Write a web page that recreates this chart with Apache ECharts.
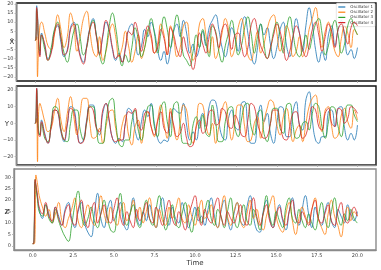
<!DOCTYPE html>
<html><head><meta charset="utf-8">
<script src="https://cdn.jsdelivr.net/npm/echarts@6/dist/echarts.min.js"></script>
<style>html,body{margin:0;padding:0;background:#fff}#c{width:381px;height:270px}</style>
</head><body><div id="c"></div>
<script>
const times=[0,0.05,0.1,0.15,0.2,0.3,
0.4,0.6,0.8,1.0,1.2,1.4,1.6,1.8,2.0,2.2,
2.4,2.6,2.8,3.0,3.2,3.4,3.6,3.8,4.0,4.2,
4.4,4.6,4.8,5.0,5.2,5.4,5.6,5.8,6.0,6.2,
6.4,6.6,6.8,7.0,7.2,7.4,7.6,7.8,8.0,8.2,
8.4,8.6,8.8,9.0,9.2,9.4,9.6,9.8,10.0,10.2,
10.4,10.6,10.8,11.0,11.2,11.4,11.6,11.8,12.0,12.2,
12.4,12.6,12.8,13.0,13.2,13.4,13.6,13.8,14.0,14.2,
14.4,14.6,14.8,15.0,15.2,15.4,15.6,15.8,16.0,16.2,
16.4,16.6,16.8,17.0,17.2,17.4,17.6,17.8,18.0,18.2,
18.4,18.6,18.8,19.0,19.2,19.4,19.6,19.8,20.0];

const names=['Oscillator 1','Oscillator 2','Oscillator 3','Oscillator 4'];
const colors=['#1f77b4','#ff7f0e','#2ca02c','#d62728'];

// Panel X
const x1=[0,1,19,14,2,-8,
4,-3,-10,-6,5,8,-1,-9,-5,7,
10,2,-8,-12,-3,7,12,3,-7,2,
10,5,-5,-11,-7,-12,-4,6,9,1,
-8,-3,6,2,10,5,-5,-11,-6,-13,
-5,5,9,2,11,4,-7,-2,-9,-4,
5,-3,7,11,14,6,-4,-9,-2,7,
2,-6,8,13,4,-8,-13,-4,9,3,
7,-2,-10,-4,6,10,-3,-9,2,12,
4,-6,8,18,9,-5,-12,-6,-11,3,
8,-3,6,11,2,-8,-5,-10,-4];
const x2=[0,0,2,-20,-8,8,
10,4,-3,-5,3,14,6,-4,2,15,
8,-6,2,12,16,5,-6,-9,2,-11,
-6,4,9,2,-9,-4,5,-3,-12,-6,
3,-10,-4,6,1,-7,-2,9,3,-8,
8,1,-9,-4,8,10,-2,-11,-6,9,
12,3,-7,2,-10,-5,4,12,6,-9,
-4,7,12,3,-8,-11,-3,5,-7,-2,
6,12,14,4,-6,0,8,3,-9,-6,
2,-9,-5,6,12,18,8,-4,5,10,
2,-6,-9,1,8,4,-4,6,3];
const x3=[0,0.5,17,12,2,-6,
3,-5,-11,-4,6,10,2,-7,-12,-4,
5,9,1,-8,-4,6,11,3,-8,-13,
-5,8,15,7,-6,-14,-8,-12,-4,7,
1,-9,-4,5,12,4,-7,4,13,6,
-4,6,14,5,-8,-11,-14,-6,3,-4,
6,-2,-9,8,5,-6,-12,-3,4,11,
2,-8,-3,7,13,4,-7,2,9,-2,
-10,-5,5,10,2,-7,6,13,4,-6,
-9,-4,3,-5,2,9,12,4,-8,-3,
6,11,3,-7,-2,8,12,7,3];
const x4=[0,0.5,18,13,1,-9,
3,-2,-11,-7,4,9,1,-8,-6,6,
9,0,-9,-13,-4,6,10,2,-8,3,
11,6,-4,-10,-8,-12,-5,5,3,10,
4,-6,2,8,3,-7,-4,6,1,-8,
7,3,-5,-9,2,-5,-10,-16,-8,4,
-2,-7,2,9,4,-4,6,9,3,-5,
3,4,-3,-9,-4,8,12,5,-3,-7,
-10,-4,3,9,5,-4,-11,-6,2,8,
4,-5,-9,-3,6,10,3,-6,2,9,
5,-4,6,9,4,-2,7,10,8];

// Panel Y
const y1=[0,2,21,8,-5,-7,
2,-6,-12,-2,8,7,-5,-11,-1,10,
9,-3,-12,-10,2,11,11,-2,-7,6,
12,1,-9,-12,-9,-11,0,9,7,-4,
-10,1,8,4,12,0,-9,-12,-10,-11,
1,9,7,6,12,-1,-10,-5,-10,0,
6,-2,10,14,13,1,-8,-10,3,8,
-2,-4,12,13,-2,-12,-12,2,11,1,
6,-6,-12,0,10,9,-8,-8,7,13,
-1,-4,14,19,2,-10,-12,-8,-8,7,
8,-2,9,10,-3,-10,-6,-10,-1];
const y2=[0,0,3,-23,2,12,
9,1,-5,-3,7,15,2,-5,6,16,
4,-7,6,15,15,0,-9,-8,-3,-12,
-2,7,8,-3,-11,-1,5,-7,-13,-2,
2,-12,0,7,-2,-8,2,11,0,-9,
9,-3,-10,0,11,8,-7,-12,-1,12,
11,-1,-7,0,-12,-2,8,13,1,-10,
0,11,11,-2,-11,-10,0,4,-9,1,
9,14,12,-1,-7,4,9,-1,-11,-4,
-1,-11,0,10,15,17,3,-5,8,10,
-2,-9,-7,5,9,1,-3,8,2];
const y3=[0,1,20,7,-3,-7,
0,-9,-11,0,10,9,-3,-10,-11,0,
8,8,-4,-10,0,10,10,-2,-12,-12,
1,13,15,1,-12,-14,-10,-10,1,8,
-4,-10,0,10,11,-2,-8,9,13,1,
-8,11,13,-1,-12,-12,-13,-1,4,-3,
5,-6,-8,11,1,-11,-11,1,9,10,
-3,-8,2,11,12,-2,-7,6,8,-6,
-11,0,9,9,-3,-6,11,12,-1,-9,
-8,0,1,-4,6,12,10,-2,-9,1,
10,9,-2,-8,3,11,11,5,1];
const y4=[0,1,21,7,-6,-8,
1,-7,-12,-2,8,7,-4,-10,0,9,
7,-5,-12,-11,1,10,8,-3,-5,8,
12,2,-9,-11,-10,-10,0,7,6,9,
-1,-4,6,7,-2,-7,1,7,-3,-6,
7,-1,-8,-6,0,-9,-14,-13,-2,2,
-6,-4,7,8,-1,0,9,7,-2,-3,
5,1,-7,-8,2,12,10,0,-6,-9,
-8,0,8,8,0,-9,-10,-2,6,7,
-1,-9,-7,2,10,8,-2,-4,6,9,
0,-2,9,8,0,3,10,9,6];

// Panel Z
const z1=[1,1,8,28,26,21,
16,12,18,14,10,17,13,9,16,19,
12,8,15,19,10,6,4,14,23,12,
8,16,20,11,15,19,10,7,14,21,
13,9,15,11,18,12,8,16,21,13,
9,17,12,10,19,14,8,12,17,11,
13,9,16,21,13,8,15,20,12,7,
14,19,11,9,17,22,13,7,6,15,
20,12,8,14,18,11,7,15,21,13,
9,16,22,14,8,17,12,9,15,19,
11,8,16,13,10,18,14,11,15];
const z2=[1,1,1,5,31,27,
22,17,13,16,10,14,19,11,8,12,
16,21,11,8,13,18,12,9,15,22,
14,10,17,12,9,15,19,11,14,20,
12,17,10,15,21,13,8,16,11,9,
17,12,16,21,12,10,18,13,9,15,
20,12,14,18,11,8,16,22,13,9,
15,19,11,8,14,20,12,16,10,7,
13,18,22,13,8,6,14,19,11,5,
12,17,13,10,16,21,12,8,5,14,
20,13,9,4,12,17,11,15,13];
const z3=[1,1,10,29,26,20,
15,13,18,12,10,16,11,7,4,2,
9,18,24,14,9,12,17,11,8,14,
20,13,7,6,15,23,13,9,14,18,
11,8,15,20,12,9,16,22,14,7,
12,18,10,8,14,19,11,6,13,17,
10,15,20,12,9,16,13,8,15,21,
12,8,13,18,11,9,16,12,7,14,
22,13,9,15,11,8,17,21,12,10,
16,11,8,14,10,7,13,19,12,8,
15,21,13,9,14,11,16,12,10];
const z4=[1,1,9,29,27,22,
17,14,19,13,11,17,12,9,15,18,
11,9,16,20,12,8,15,19,10,14,
18,12,10,16,21,13,9,15,11,8,
16,11,14,19,12,10,17,13,9,15,
20,12,9,15,11,7,13,18,22,14,
9,16,12,10,17,21,13,9,15,12,
10,14,18,11,9,16,21,13,9,14,
18,11,8,13,17,12,9,15,20,12,
10,15,12,9,16,20,12,10,14,18,
11,9,15,19,12,10,14,17,13];

const xTicks=[0,2.5,5,7.5,10,12.5,15,17.5,20];
const xPanelTicks=[-20,-15,-10,-5,0,5,10,15,20];
const yPanelTicks=[-20,-10,0,10,20];
const zPanelTicks=[0,5,10,15,20,25,30];
const panelLabels=['X','Y','Z'];

const panels=[[x1,x2,x3,x4],[y1,y2,y3,y4],[z1,z2,z3,z4]];
panels.forEach((p,pi)=>p.forEach((a,ci)=>{ if(a.length!==times.length) throw new Error('len panel '+pi+' series '+ci+' = '+a.length+' vs '+times.length); }));

const FONT='DejaVu Sans';
const GRAY='#8a8a8a';
const grids=[
 {left:14,right:5,top:3,height:78,show:true,borderColor:'#111',borderWidth:1.4},
 {left:14,right:5,top:86,height:79,show:true,borderColor:'#111',borderWidth:1.4},
 {left:14,right:5,top:169,height:81,show:true,borderColor:GRAY,borderWidth:1.4}
];
const yRanges=[[-22.3,20.5],[-25,22.4],[-1.75,33.6]];
const yTickSets=[xPanelTicks,yPanelTicks,zPanelTicks];
const fmtNum=v=>String(v).replace('-','\u2212');

const xAxes=[0,1,2].map(i=>({
 gridIndex:i,type:'value',min:-1.15,max:21.15,
 splitLine:{show:false},
 axisLine:{show:i>=1,onZero:false,lineStyle:{color:GRAY,width:1.4}},
 axisTick:{show:true,customValues:xTicks,length:2,lineStyle:{color:'#aaa',width:0.8}},
 axisLabel:{show:i===2,customValues:xTicks,formatter:v=>v.toFixed(1),fontSize:5,color:'#444',margin:3,fontFamily:FONT},
 name:i===2?'Time':'',nameLocation:'middle',nameGap:10,
 nameTextStyle:{fontSize:7,color:'#333',fontFamily:FONT}
}));
const yAxes=[0,1,2].map(i=>({
 gridIndex:i,type:'value',min:yRanges[i][0],max:yRanges[i][1],
 splitLine:{show:false},
 axisLine:{show:true,onZero:false,lineStyle:{color:GRAY,width:1.4}},
 axisTick:{show:true,customValues:yTickSets[i],length:2,lineStyle:{color:'#aaa',width:0.8}},
 axisLabel:{customValues:yTickSets[i],formatter:fmtNum,fontSize:5,color:'#444',margin:3,fontFamily:FONT}
}));

const series=[];
panels.forEach((p,pi)=>p.forEach((arr,ci)=>{
 series.push({
  type:'line',name:names[ci],xAxisIndex:pi,yAxisIndex:pi,
  data:times.map((t,k)=>[t,arr[k]]),
  showSymbol:false,smooth:0.45,
  lineStyle:{width:1,color:colors[ci],opacity:0.8},
  itemStyle:{color:colors[ci]},
  z:2+ci
 });
}));

const chart=echarts.init(document.getElementById('c'),null,{renderer:'canvas'});
chart.setOption({
 animation:false,
 backgroundColor:'#fff',
 grid:grids,xAxis:xAxes,yAxis:yAxes,series:series,
 legend:{data:names,orient:'vertical',right:6,top:3,icon:'rect',itemWidth:7,itemHeight:1.2,itemGap:1.2,
  textStyle:{fontSize:4,color:'#333',fontFamily:FONT},
  backgroundColor:'rgba(255,255,255,0.85)',borderColor:'#ccc',borderWidth:0.5,borderRadius:1,padding:[2,2,2,2]},
 graphic:[
  {type:'text',x:12,y:42,z:100,style:{text:panelLabels[0],font:'7px "DejaVu Sans"',fill:'#333',align:'center',verticalAlign:'middle',textAlign:'center',textVerticalAlign:'middle'}},
  {type:'text',x:7,y:124,z:100,style:{text:panelLabels[1],font:'7px "DejaVu Sans"',fill:'#333',align:'center',verticalAlign:'middle',textAlign:'center',textVerticalAlign:'middle'}},
  {type:'text',x:7,y:212,z:100,style:{text:panelLabels[2],font:'7px "DejaVu Sans"',fill:'#333',align:'center',verticalAlign:'middle',textAlign:'center',textVerticalAlign:'middle'}}
 ]
});
</script></body></html>
